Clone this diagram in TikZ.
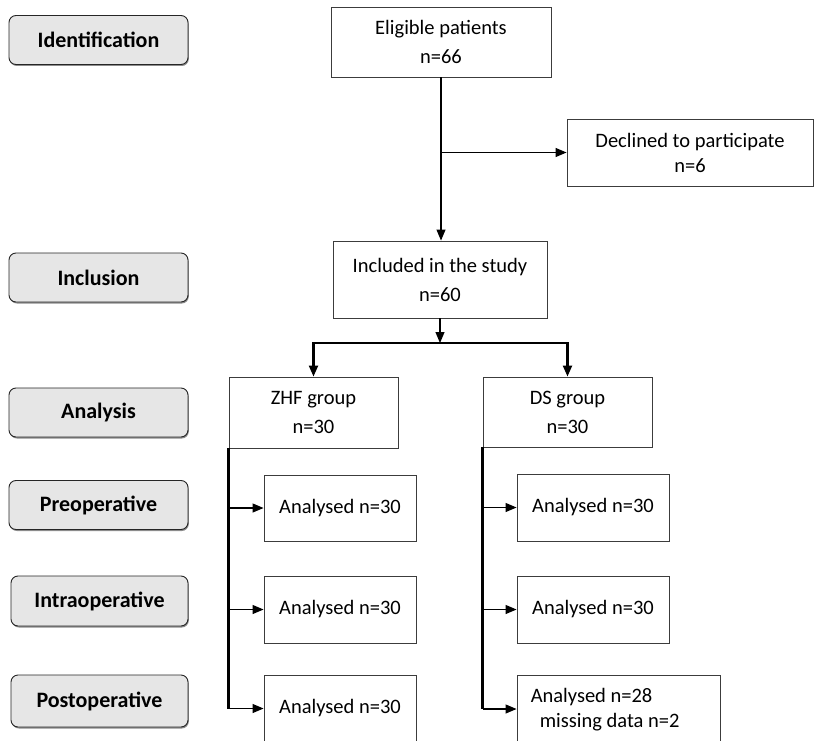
\documentclass[tikz,border=0pt]{standalone}
\usepackage{fontspec}
\setmainfont{Carlito}
\usetikzlibrary{arrows.meta,shadows}
\definecolor{labfill}{RGB}{230,230,230}
\definecolor{edge}{RGB}{60,60,60}
\begin{document}
\begin{tikzpicture}[x=1pt,y=-1pt,
  box/.style={draw=edge, line width=0.9pt, fill=white, inner sep=0pt, align=center,
    font=\fontsize{20.5}{29}\selectfont,
    general shadow={shadow xshift=0.8pt, shadow yshift=-1.2pt, fill=black!30}},
  lab/.style={draw=black!85, line width=0.9pt, rounded corners=7pt, fill=labfill,
    minimum width=179pt, minimum height=49pt, inner sep=0pt,
    font=\fontsize{22}{26}\selectfont\bfseries,
    general shadow={shadow xshift=0.8pt, shadow yshift=-1.5pt, fill=black!45}},
  txt/.style={inner sep=0pt, font=\fontsize{20.5}{25}\selectfont},
  tip/.tip={Triangle[length=11pt,width=9pt]},
  arr/.style={-tip},
  thinline/.style={line width=1.1pt, black},
  thickline/.style={line width=2.2pt, black}
]
\useasboundingbox (0,0) rectangle (814,741);
\clip (0,0) rectangle (814,741);

% stage labels
\node[lab] (ident) at (98.5,40) {Identification};
\node[lab] (inclab) at (98.5,277.5) {Inclusion};
\node[lab] (anal) at (98.5,412.5) {Analysis};
\node[lab] (preop) at (98.5,505) {Preoperative};
\node[lab, minimum width=177pt, minimum height=50pt] (intraop) at (99.5,601) {Intraoperative};
\node[lab, minimum width=177pt, minimum height=52pt] (postop) at (99.5,701) {Postoperative};

% flow boxes
\node[box, minimum width=220pt, minimum height=70pt] (elig) at (441,42) {Eligible patients\\n=66};
\node[box, minimum width=246pt, minimum height=67pt, font=\fontsize{20.5}{25}\selectfont] (decl) at (690,152.5) {Declined to participate\\n=6};
\node[box, minimum width=214pt, minimum height=77pt] (incl) at (440,279.5) {Included in the study\\n=60};
\node[box, minimum width=169pt, minimum height=71pt] (zhf) at (313.5,412.5) {ZHF group\\n=30};
\node[box, minimum width=169pt, minimum height=70pt] (ds) at (567.5,412) {DS group\\n=30};

\node[box, minimum width=152pt, minimum height=66pt] (zp) at (340,508) {Analysed n=30};
\node[box, minimum width=152pt, minimum height=67pt] (dp) at (593,507.5) {Analysed n=30};
\node[box, minimum width=152pt, minimum height=67pt] (zi) at (340,609.5) {Analysed n=30};
\node[box, minimum width=152pt, minimum height=67pt] (di) at (593,609.5) {Analysed n=30};
\node[box, minimum width=152pt, minimum height=67pt] (zpo) at (340,708.5) {Analysed n=30};
\node[box, minimum width=203pt, minimum height=68pt] (dpo) at (618.5,709) {};
\node[txt, anchor=west] (dpo1) at ([xshift=14pt, yshift=-22pt]dpo.north west) {Analysed n=28};
\node[txt, anchor=west] (dpo2) at ([xshift=23pt, yshift=-48pt]dpo.north west) {missing data n=2};

% connectors
\draw[thinline, arr] (elig.south) -- (elig.south |- incl.north);
\coordinate (br) at (elig.south |- decl.west);
\draw[thinline, arr] (br) -- (decl.west);

\coordinate (split) at (440,343);
\draw[thinline, arr] (incl.south) -- (split);
\draw[thickline, tip-tip]
  (zhf.north) -- (zhf.north |- split) -- (ds.north |- split) -- (ds.north);

\draw[thickline] (zhf.south west) -- (zhf.south west |- zpo.west);
\foreach \n in {zp,zi,zpo} \draw[thinline, arr] (zhf.south west |- \n.west) -- (\n.west);

\draw[thickline] (ds.south west) -- (ds.south west |- dpo.west);
\foreach \n in {dp,di,dpo} \draw[thinline, arr] (ds.south west |- \n.west) -- (\n.west);
\end{tikzpicture}
\end{document}
